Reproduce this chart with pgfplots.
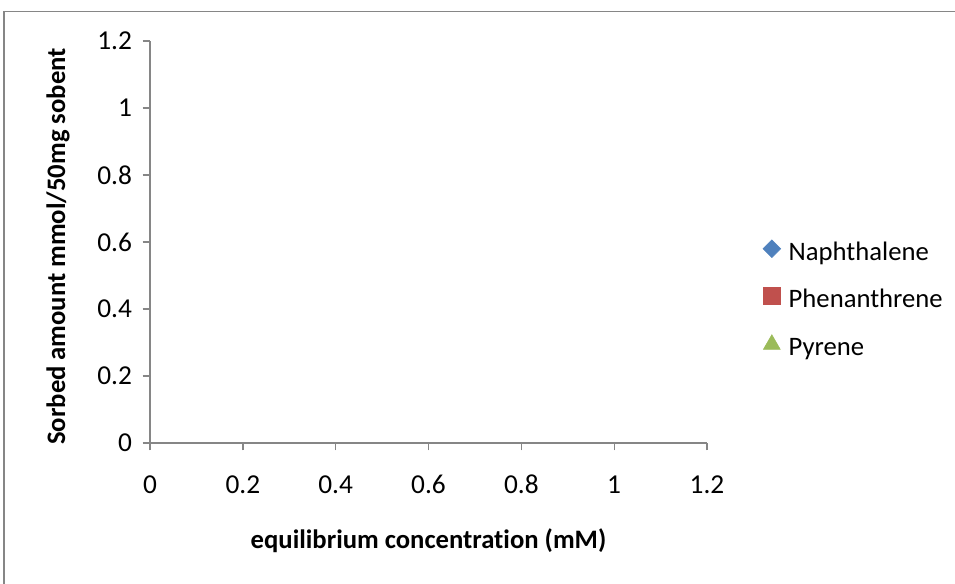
\documentclass[border=0pt]{standalone}
\usepackage{pgfplots}
\pgfplotsset{compat=1.18}
\usepackage{fontspec}
\setmainfont{Carlito}[Ligatures=NoCommon]
\definecolor{axgray}{HTML}{868686}
\definecolor{nblue}{HTML}{4F81BD}
\definecolor{pred}{HTML}{C0504D}
\definecolor{pgreen}{HTML}{9BBB59}
\begin{document}
\begin{tikzpicture}[x=0.75pt,y=0.75pt]
\clip (0,0) rectangle (955,583);
\draw[axgray, line width=1pt] (4,-20) -- (4,571.5) -- (980,571.5);
\begin{axis}[
  at={(112.5pt,105pt)}, anchor=south west,
  scale only axis, width=417.75pt, height=301.5pt,
  xmin=0, xmax=1.2, ymin=0, ymax=1.2,
  xtick={0,0.2,0.4,0.6,0.8,1,1.2},
  ytick={0,0.2,0.4,0.6,0.8,1,1.2},
  axis x line*=bottom, axis y line*=left,
  axis line style={axgray, line width=1pt, -},
  tick align=outside, major tick length=5.5pt,
  tick style={axgray, line width=1pt},
  /pgf/number format/fixed, /pgf/number format/precision=1,
  /pgf/number format/assume math mode=true,
  ticklabel style={font=\fontsize{20.5}{24}\selectfont, text=black},
  xticklabel style={anchor=north, text height=14pt, text depth=0pt, yshift=-15pt},
  yticklabel style={xshift=-4.5pt},
  xlabel={equilibrium concentration (mM)},
  ylabel={Sorbed amount mmol/50mg sobent},
  every axis x label/.style={at={(axis description cs:0.5,-0.2438)}, anchor=center, font=\fontsize{20}{24}\selectfont\bfseries},
  every axis y label/.style={at={(axis description cs:-0.1526,0.4888)}, rotate=90, anchor=base, font=\fontsize{20}{24}\selectfont\bfseries},
  legend image code/.code={\draw[#1] plot coordinates {(6pt,3.5pt)};},
  legend cell align=left,
  legend style={draw=none, fill=none, inner sep=0pt, row sep=15.5pt,
    at={(axis description cs:1.1,0.506)}, anchor=north west,
    font=\fontsize{20}{24}\selectfont,
    nodes={inner sep=0pt, text height=15pt, text depth=5pt},
    /tikz/every odd column/.style={column sep=6pt}},
]
\addlegendimage{only marks, mark=square*, mark size=4.7pt, mark options={rotate=45, fill=nblue, draw=nblue}}
\addlegendentry{Naphthalene}
\addlegendimage{only marks, mark=square*, mark size=6.4pt, mark options={fill=pred, draw=pred}}
\addlegendentry{Phenanthrene}
\addlegendimage{only marks, mark=triangle*, mark size=7.3pt, mark options={fill=pgreen, draw=pgreen}}
\addlegendentry{Pyrene}
\end{axis}
\end{tikzpicture}
\end{document}
